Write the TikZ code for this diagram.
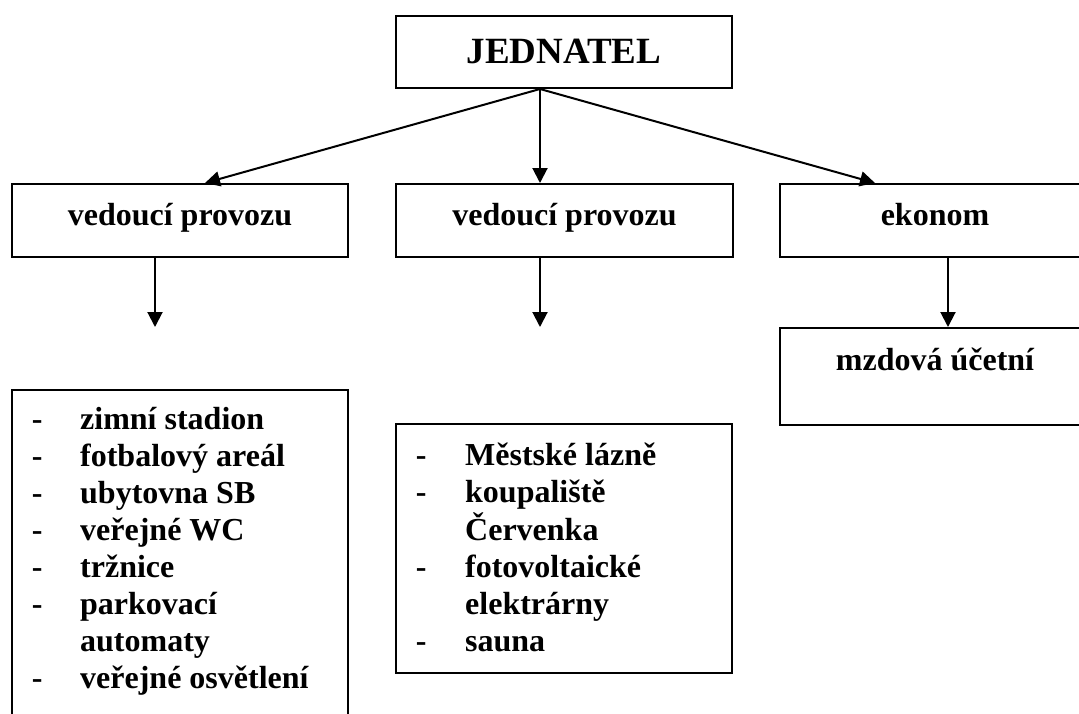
\documentclass[tikz,border=0pt]{standalone}
\usepackage{fontspec}
\setmainfont{Liberation Serif}
\usetikzlibrary{arrows.meta}
\begin{document}
\begin{tikzpicture}[x=1pt,y=-1pt,
  box/.style={draw, line width=2pt, inner sep=0pt, font=\fontsize{32}{37}\selectfont\bfseries},
  head/.style={box, text height=24pt, text depth=15pt},
  arr/.style={line width=2pt, -{Triangle[width=15pt,length=15pt]}},
  listtext/.style={inner sep=0pt, anchor=base west, font=\fontsize{32}{37}\selectfont\bfseries}]
\useasboundingbox (0,0) rectangle (1079,713);
\clip (0,0) rectangle (1079,713);
\fill[white] (0,0) rectangle (1079,713);
% boxes
\node[box, minimum width=336pt, minimum height=72pt, text height=36pt, text depth=14pt,
      font=\fontsize{37}{40}\selectfont\bfseries] (top) at (564,52) {JEDNATEL};
\node[head, minimum width=336pt, minimum height=73pt] (v1) at (180,220.5) {vedoucí provozu};
\node[head, minimum width=337pt, minimum height=73pt] (v2) at (564.5,220.5) {vedoucí provozu};
\node[head, minimum width=310pt, minimum height=73pt] (ek) at (935,220.5) {ekonom};
\node[box, minimum width=310pt, minimum height=97pt, text height=20pt, text depth=33pt] (mz) at (935,376.5) {mzdová účetní};
\node[box, minimum width=336pt, minimum height=370pt] (l1) at (180,575) {};
\node[box, minimum width=336pt, minimum height=249pt] (l2) at (564,548.5) {};
% list texts
\node[listtext] (t1) at (31.6,429) {\begin{tabular}[t]{@{}p{48.4pt}@{}l@{}}
-&zimní stadion\\
-&fotbalový areál\\
-&ubytovna SB\\
-&veřejné WC\\
-&tržnice\\
-&parkovací\\
&automaty\\
-&veřejné osvětlení
\end{tabular}};
\node[listtext] (t2) at (415.6,465) {\begin{tabular}[t]{@{}p{49.4pt}@{}l@{}}
-&Městské lázně\\
-&koupaliště\\
&Červenka\\
-&fotovoltaické\\
&elektrárny\\
-&sauna
\end{tabular}};
% connectors
\coordinate (r) at ([xshift=-24pt]top.south);
\draw[arr] (r) -- ([xshift=25pt]v1.north);
\draw[arr] (r) -- ([xshift=-24.5pt]v2.north);
\draw[arr] (r) -- ([xshift=-60pt]ek.north);
\coordinate (e1) at (155,327);
\coordinate (e2) at (540,327);
\draw[arr] ([xshift=-25pt]v1.south) -- (e1);
\draw[arr] ([xshift=-24.5pt]v2.south) -- (e2);
\draw[arr] ([xshift=13pt]ek.south) -- ([xshift=13pt]mz.north);
\end{tikzpicture}
\end{document}
